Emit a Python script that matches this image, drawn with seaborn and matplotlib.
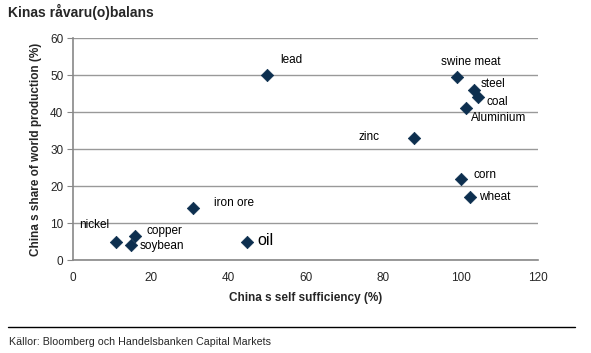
import matplotlib
matplotlib.use("Agg")
import matplotlib.pyplot as plt
import seaborn as sns
import pandas as pd

# commodities: China's self sufficiency (%) vs share of world production (%)
names = ['lead', 'swine meat', 'steel', 'coal', 'Aluminium', 'zinc', 'corn', 'wheat',
         'iron ore', 'nickel', 'copper', 'soybean', 'oil']
self_suff = [50, 99, 103.5, 104.5, 101.5, 88, 100, 102.5, 31, 11, 16, 15, 45]
world_share = [50, 49.5, 46, 44, 41, 33, 22, 17, 14, 5, 6.5, 4, 5]
# label offsets in points (dx, dy)
offsets = [(10, 11), (-11, 11), (5, 4), (6, -3), (3, -7), (-40, 1), (9, 3), (6, 0),
           (15, 4), (-26, 12), (8, 4), (6, -0.5), (7, 0.5)]

df = pd.DataFrame({'name': names, 'x': self_suff, 'y': world_share})

sns.set_style("white")
plt.rcParams['font.family'] = ['Liberation Sans', 'DejaVu Sans']

fig = plt.figure(figsize=(5.91, 3.53), dpi=100)
ax = fig.add_axes([0.1235, 0.263, 0.787, 0.629])

sns.scatterplot(data=df, x='x', y='y', marker='D', s=40, color='#0d2f4f',
                edgecolor='#0d2f4f', linewidth=0.5, ax=ax, zorder=3)

for n, x, y, (dx, dy) in zip(names, self_suff, world_share, offsets):
    fs = 11.5 if n == 'oil' else 8.5
    ax.annotate(n, (x, y), xytext=(dx, dy), textcoords='offset points',
                fontsize=fs, va='center', ha='left', color='black')

ax.set_xlim(0, 120)
ax.set_ylim(0, 60)
ax.set_xticks(range(0, 121, 20))
ax.set_yticks(range(0, 61, 10))
ax.yaxis.grid(True, color='#999999', linewidth=1)
ax.xaxis.grid(False)
for s in ['top', 'right']:
    ax.spines[s].set_visible(False)
for s in ['left', 'bottom']:
    ax.spines[s].set_color('#888888')
    ax.spines[s].set_linewidth(1.2)
ax.tick_params(axis='y', left=True, length=4, color='#888888', labelsize=8.5, pad=3)
ax.tick_params(axis='x', bottom=False, labelsize=8.5, pad=5)
ax.set_xlabel('China s self sufficiency (%)', fontsize=8.5, fontweight='bold', labelpad=6)
ax.set_ylabel('China s share of world production (%)', fontsize=8.5, fontweight='bold', labelpad=6)

fig.text(0.014, 0.965, 'Kinas råvaru(o)balans', fontsize=10, fontweight='bold', va='center')
fig.add_artist(plt.Line2D([0.014, 0.973], [0.074, 0.074], color='black', linewidth=1,
                          transform=fig.transFigure))
fig.text(0.016, 0.031, 'Källor: Bloomberg och Handelsbanken Capital Markets', fontsize=7.7, va='center')

fig.savefig('out.png', dpi=100)
